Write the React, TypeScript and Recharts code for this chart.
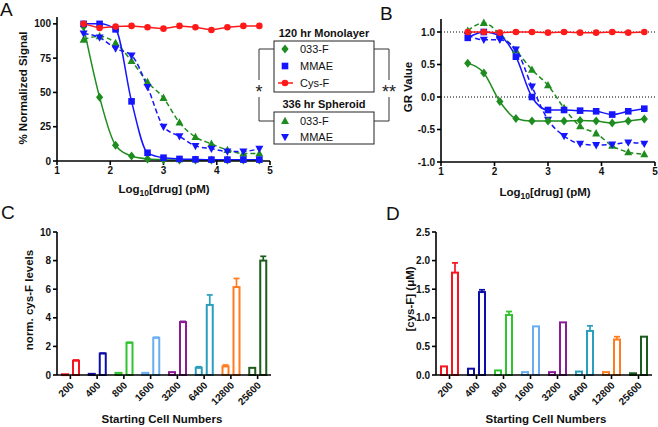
import React from "react";
import { LineChart, Line, BarChart, Bar, XAxis, YAxis, ReferenceLine } from "recharts";

const FONT = '"Liberation Sans", Arial, Helvetica, sans-serif';

// log10 of drug concentration (pM)
const logDose = [1.5, 1.8, 2.1, 2.4, 2.7, 3.0, 3.3, 3.6, 3.9, 4.2, 4.5, 4.8];

// panel A: % normalized signal
const sigCysF = [100, 97, 98, 98.5, 97.5, 96.5, 98.5, 97.5, 95.5, 97.5, 98.5, 98.5];
const sigMono033 = [98, 46.5, 11.5, 3.6, 1.5, 1, 0.8, 0.8, 0.7, 0.7, 0.7, 0.7];
const sigMonoMMAE = [100, 100, 96, 43.5, 6, 2.4, 1.5, 1.2, 1, 1, 1, 1];
const sigSph033 = [88.5, 91, 86, 73, 57.5, 46, 28, 17.5, 12.5, 8, 5.5, 5.5];
const sigSphMMAE = [93, 90, 82, 77, 54, 25, 18, 11, 9, 7, 7, 9];

// panel B: GR value
const grCysF = [1.0, 1.0, 0.99, 1.0, 1.0, 0.99, 1.0, 0.99, 0.99, 1.0, 0.99, 1.0];
const grMono033 = [0.52, 0.37, -0.07, -0.33, -0.37, -0.37, -0.37, -0.36, -0.37, -0.4, -0.37, -0.34];
const grMonoMMAE = [0.91, 1.0, 0.94, 0.62, 0.0, -0.2, -0.2, -0.21, -0.22, -0.27, -0.22, -0.18];
const grSph033 = [1.02, 1.14, 0.97, 0.72, 0.42, 0.18, -0.17, -0.45, -0.56, -0.75, -0.85, -0.88];
const grSphMMAE = [0.95, 0.88, 0.88, 0.73, 0.16, -0.35, -0.6, -0.72, -0.74, -0.73, -0.7, -0.72];

// panels C and D
const cellNumbers = ["200", "400", "800", "1600", "3200", "6400", "12800", "25600"];
const normSmall = [0.05, 0.08, 0.15, 0.15, 0.2, 0.5, 0.6, 0.5];
const normSmallErr = [0, 0, 0, 0, 0, 0.08, 0.1, 0];
const normBig = [1.0, 1.5, 2.25, 2.6, 3.7, 4.9, 6.15, 8.0];
const normBigErr = [0.05, 0.03, 0.04, 0.04, 0.05, 0.7, 0.6, 0.3];
const concSmall = [0.15, 0.11, 0.08, 0.05, 0.05, 0.06, 0.05, 0.03];
const concSmallErr = [0.01, 0.01, 0.01, 0, 0, 0.01, 0, 0];
const concBig = [1.79, 1.45, 1.05, 0.85, 0.92, 0.77, 0.62, 0.67];
const concBigErr = [0.17, 0.04, 0.06, 0.01, 0.01, 0.09, 0.05, 0.01];

const barColors = ["#f5151f", "#0d0da8", "#2fc42f", "#69aef0", "#8c1c96", "#2a9fbd", "#ff7d1e", "#1c5c1c"];

const GREEN = "#1e8c1e";
const BLUE = "#1515ff";
const RED = "#ff1a1a";

const doseA = logDose.map((x, i) => ({
  x,
  cys: sigCysF[i],
  mono033: sigMono033[i],
  monoMMAE: sigMonoMMAE[i],
  sph033: sigSph033[i],
  sphMMAE: sigSphMMAE[i],
}));

const doseB = logDose.map((x, i) => ({
  x,
  cys: grCysF[i],
  mono033: grMono033[i],
  monoMMAE: grMonoMMAE[i],
  sph033: grSph033[i],
  sphMMAE: grSphMMAE[i],
}));

const barsC = cellNumbers.map((cat, i) => ({
  cat,
  small: normSmall[i],
  smallErr: normSmallErr[i],
  big: normBig[i],
  bigErr: normBigErr[i],
}));

const barsD = cellNumbers.map((cat, i) => ({
  cat,
  small: concSmall[i],
  smallErr: concSmallErr[i],
  big: concBig[i],
  bigErr: concBigErr[i],
}));

function Marker({ shape, cx, cy, color }: { shape: string; cx: number; cy: number; color: string }) {
  if (shape === "diamond")
    return <polygon points={`${cx},${cy - 4.5} ${cx + 3.6},${cy} ${cx},${cy + 4.5} ${cx - 3.6},${cy}`} fill={color} />;
  if (shape === "square") return <rect x={cx - 3.3} y={cy - 3.3} width={6.6} height={6.6} fill={color} />;
  if (shape === "triangle")
    return <polygon points={`${cx},${cy - 4.3} ${cx + 4},${cy + 3} ${cx - 4},${cy + 3}`} fill={color} />;
  if (shape === "down")
    return <polygon points={`${cx - 4},${cy - 3} ${cx + 4},${cy - 3} ${cx},${cy + 4.3}`} fill={color} />;
  return <circle cx={cx} cy={cy} r={3.3} fill={color} />;
}

const dot = (shape: string, color: string) => (p: any) => {
  const { cx, cy, index } = p;
  if (cx == null || cy == null) return <g key={`${shape}-${index}`} />;
  return <Marker key={`${shape}-${index}`} shape={shape} cx={cx} cy={cy} color={color} />;
};

const axisProps = {
  stroke: "#000",
  axisLine: { stroke: "#000", strokeWidth: 1.6 },
  tickLine: { stroke: "#000", strokeWidth: 1.6 },
  tickSize: 4,
  tick: { fill: "#111", fontSize: 10, fontWeight: 700, fontFamily: FONT },
};

// hollow bar with an upward-only error whisker, scaled from the bar's own height
const hollowBar = (valKey: string, errKey: string) => (p: any) => {
  const { x, y, width, height, payload } = p;
  const color = barColors[cellNumbers.indexOf(payload.cat)];
  const v = payload[valKey];
  const err = payload[errKey];
  const pxPerUnit = v > 0 ? height / v : 0;
  const top = y - err * pxPerUnit;
  return (
    <g>
      <rect x={x} y={y} width={width} height={Math.max(height, 0.8)} fill="#fff" stroke={color} strokeWidth={2} />
      {err > 0.02 && (
        <g stroke={color} strokeWidth={1.7}>
          <line x1={x + width / 2} x2={x + width / 2} y1={y} y2={top} />
          <line x1={x + width / 2 - 3} x2={x + width / 2 + 3} y1={top} y2={top} />
        </g>
      )}
    </g>
  );
};

const RotTick = (p: any) => {
  const { x, y, payload } = p;
  const tx = x + 4;
  const ty = y + 7;
  return (
    <text
      x={tx}
      y={ty}
      transform={`rotate(-45, ${tx}, ${ty})`}
      textAnchor="end"
      fill="#111"
      fontSize={10}
      fontWeight={700}
      fontFamily={FONT}
    >
      {payload.value}
    </text>
  );
};

export default function App() {
  const titleStyle = { fontFamily: FONT, fontWeight: 700, fontSize: 11.5, fill: "#111" } as const;
  const legendText = { fontFamily: FONT, fontSize: 11, fill: "#111" } as const;
  return (
    <div style={{ position: "absolute", left: 0, top: 0, width: 658, height: 427, background: "#fff" }}>
      {/* A */}
      <div style={{ position: "absolute", left: 0, top: 0 }}>
        <LineChart width={290} height={200} data={doseA} margin={{ top: 17, right: 20, bottom: 0, left: 0 }}>
          <XAxis type="number" dataKey="x" domain={[1, 5]} ticks={[1, 2, 3, 4, 5]} height={39} {...axisProps} />
          <YAxis domain={[0, 105]} ticks={[0, 25, 50, 75, 100]} width={57} {...axisProps} />
          <Line dataKey="sph033" type="monotone" stroke={GREEN} strokeWidth={1.5} strokeDasharray="5 3" dot={dot("triangle", GREEN)} isAnimationActive={false} />
          <Line dataKey="sphMMAE" type="monotone" stroke={BLUE} strokeWidth={1.5} strokeDasharray="5 3" dot={dot("down", BLUE)} isAnimationActive={false} />
          <Line dataKey="mono033" type="monotone" stroke={GREEN} strokeWidth={1.5} dot={dot("diamond", GREEN)} isAnimationActive={false} />
          <Line dataKey="monoMMAE" type="monotone" stroke={BLUE} strokeWidth={1.5} dot={dot("square", BLUE)} isAnimationActive={false} />
          <Line dataKey="cys" type="linear" stroke={RED} strokeWidth={1.5} dot={dot("circle", RED)} isAnimationActive={false} />
        </LineChart>
      </div>

      {/* B */}
      <div style={{ position: "absolute", left: 380, top: 0 }}>
        <LineChart width={278} height={200} data={doseB} margin={{ top: 19, right: 3, bottom: 0, left: 0 }}>
          <XAxis type="number" dataKey="x" domain={[1, 5]} ticks={[1, 2, 3, 4, 5]} height={38} {...axisProps} />
          <YAxis
            domain={[-1, 1.2]}
            ticks={[-1, -0.5, 0, 0.5, 1]}
            tickFormatter={(v: number) => v.toFixed(1)}
            width={61}
            {...axisProps}
          />
          <ReferenceLine y={1} stroke="#000" strokeWidth={1} strokeDasharray="1 2" />
          <ReferenceLine y={0} stroke="#000" strokeWidth={1} strokeDasharray="1 2" />
          <Line dataKey="sph033" type="monotone" stroke={GREEN} strokeWidth={1.5} strokeDasharray="5 3" dot={dot("triangle", GREEN)} isAnimationActive={false} />
          <Line dataKey="sphMMAE" type="monotone" stroke={BLUE} strokeWidth={1.5} strokeDasharray="5 3" dot={dot("down", BLUE)} isAnimationActive={false} />
          <Line dataKey="mono033" type="monotone" stroke={GREEN} strokeWidth={1.5} dot={dot("diamond", GREEN)} isAnimationActive={false} />
          <Line dataKey="monoMMAE" type="monotone" stroke={BLUE} strokeWidth={1.5} dot={dot("square", BLUE)} isAnimationActive={false} />
          <Line dataKey="cys" type="linear" stroke={RED} strokeWidth={1.5} dot={dot("circle", RED)} isAnimationActive={false} />
        </LineChart>
      </div>

      {/* C */}
      <div style={{ position: "absolute", left: 0, top: 200 }}>
        <BarChart width={290} height={227} data={barsC} margin={{ top: 32, right: 19, bottom: 0, left: 0 }} barSize={6} barGap={5}>
          <XAxis dataKey="cat" interval={0} height={52} tickMargin={0} {...axisProps} tick={<RotTick />} />
          <YAxis domain={[0, 10]} ticks={[0, 2, 4, 6, 8, 10]} width={57} {...axisProps} />
          <Bar dataKey="small" shape={hollowBar("small", "smallErr")} isAnimationActive={false} />
          <Bar dataKey="big" shape={hollowBar("big", "bigErr")} isAnimationActive={false} />
        </BarChart>
      </div>

      {/* D */}
      <div style={{ position: "absolute", left: 380, top: 200 }}>
        <BarChart width={278} height={227} data={barsD} margin={{ top: 32, right: 6, bottom: 0, left: 0 }} barSize={6} barGap={5}>
          <XAxis dataKey="cat" interval={0} height={52} tickMargin={0} {...axisProps} tick={<RotTick />} />
          <YAxis
            domain={[0, 2.5]}
            ticks={[0, 0.5, 1, 1.5, 2, 2.5]}
            tickFormatter={(v: number) => v.toFixed(1)}
            width={56}
            {...axisProps}
          />
          <Bar dataKey="small" shape={hollowBar("small", "smallErr")} isAnimationActive={false} />
          <Bar dataKey="big" shape={hollowBar("big", "bigErr")} isAnimationActive={false} />
        </BarChart>
      </div>

      {/* labels, titles and legend */}
      <svg width={658} height={427} style={{ position: "absolute", left: 0, top: 0, pointerEvents: "none" }}>
        <g fontFamily={FONT} fontSize={19} fill="#111">
          <text x={0} y={16}>A</text>
          <text x={380} y={20}>B</text>
          <text x={1} y={219}>C</text>
          <text x={386} y={220}>D</text>
        </g>

        <text x={164} y={193} textAnchor="middle" {...titleStyle}>
          Log<tspan fontSize={8.5} dy={3}>10</tspan>
          <tspan dy={-3}>[drug] (pM)</tspan>
        </text>
        <text x={545} y={196} textAnchor="middle" {...titleStyle}>
          Log<tspan fontSize={8.5} dy={3}>10</tspan>
          <tspan dy={-3}>[drug] (pM)</tspan>
        </text>
        <text transform="translate(27,88) rotate(-90)" textAnchor="middle" {...titleStyle}>% Normalized Signal</text>
        <text transform="translate(412,87) rotate(-90)" textAnchor="middle" {...titleStyle}>GR Value</text>
        <text transform="translate(33,300) rotate(-90)" textAnchor="middle" {...titleStyle}>norm. cys-F levels</text>
        <text transform="translate(414,299) rotate(-90)" textAnchor="middle" {...titleStyle}>[cys-F] (μM)</text>
        <text x={162} y={423} textAnchor="middle" {...titleStyle}>Starting Cell Numbers</text>
        <text x={546} y={423} textAnchor="middle" {...titleStyle}>Starting Cell Numbers</text>

        {/* legend */}
        <text x={324} y={37} textAnchor="middle" fontFamily={FONT} fontWeight={700} fontSize={11} fill="#111">120 hr Monolayer</text>
        <rect x={274} y={41} width={100} height={51} fill="#fff" stroke="#222" strokeWidth={1} />
        <Marker shape="diamond" cx={285} cy={49} color={GREEN} />
        <text x={300} y={53} {...legendText}>033-F</text>
        <Marker shape="square" cx={285} cy={66} color={BLUE} />
        <text x={300} y={70} {...legendText}>MMAE</text>
        <line x1={278} x2={293} y1={83} y2={83} stroke={RED} strokeWidth={1.5} />
        <Marker shape="circle" cx={285} cy={83} color={RED} />
        <text x={300} y={87} {...legendText}>Cys-F</text>

        <text x={324} y={108} textAnchor="middle" fontFamily={FONT} fontWeight={700} fontSize={11} fill="#111">336 hr Spheroid</text>
        <rect x={274} y={112} width={100} height={32} fill="#fff" stroke="#222" strokeWidth={1} />
        <Marker shape="triangle" cx={285} cy={121} color={GREEN} />
        <text x={300} y={125} {...legendText}>033-F</text>
        <Marker shape="down" cx={285} cy={137} color={BLUE} />
        <text x={300} y={141} {...legendText}>MMAE</text>

        <g stroke="#333" strokeWidth={1} fill="none">
          <path d="M274,49 H259 V80" />
          <path d="M259,97 V121 H274" />
          <path d="M374,49 H389 V80" />
          <path d="M389,97 V121 H374" />
        </g>
        <text x={259} y={98} textAnchor="middle" fontFamily={FONT} fontSize={18} fill="#222">*</text>
        <text x={389} y={98} textAnchor="middle" fontFamily={FONT} fontSize={18} fill="#222">**</text>
      </svg>
    </div>
  );
}
